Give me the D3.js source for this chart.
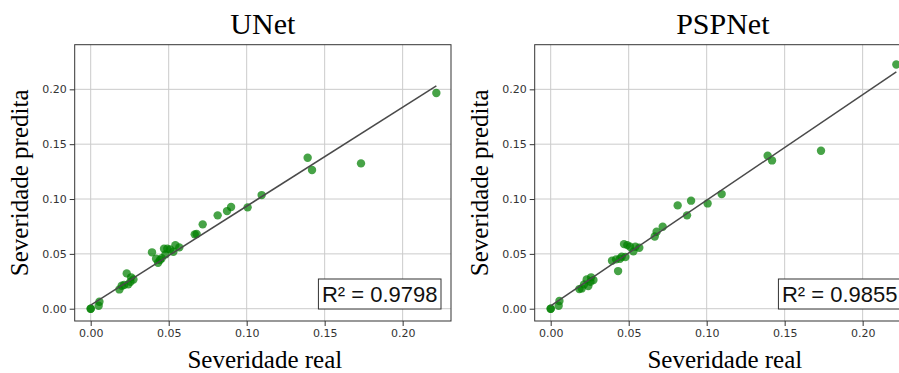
<!DOCTYPE html>
<html>
<head>
<meta charset="utf-8">
<script src="https://d3js.org/d3.v7.min.js"></script>
<style>
  body { margin: 0; background: #fff; }
  svg { display: block; }
</style>
</head>
<body>
<svg width="899" height="373"></svg>
<script>
  // severidade real (shared by both models)
  var severidadeReal = [
    0.0000, 0.0000, 0.0056, 0.0051, 0.0184, 0.0199, 0.0214, 0.0231, 0.0241, 0.0259,
    0.0274, 0.0255, 0.0393, 0.0419, 0.0432, 0.0444, 0.0455, 0.0470, 0.0479, 0.0491,
    0.0509, 0.0530, 0.0543, 0.0568, 0.0667, 0.0679, 0.0718, 0.0814, 0.0874, 0.0900,
    0.1006, 0.1096, 0.1391, 0.1419, 0.1733, 0.2216
  ];
  var predUNet = [
    0.0000, 0.0000, 0.0064, 0.0027, 0.0176, 0.0210, 0.0216, 0.0322, 0.0222, 0.0286,
    0.0267, 0.0246, 0.0514, 0.0456, 0.0419, 0.0444, 0.0460, 0.0547, 0.0495, 0.0547,
    0.0541, 0.0520, 0.0580, 0.0559, 0.0678, 0.0681, 0.0769, 0.0851, 0.0890, 0.0927,
    0.0924, 0.1036, 0.1376, 0.1264, 0.1325, 0.1966
  ];
  var predPSPNet = [
    0.0000, 0.0000, 0.0070, 0.0027, 0.0179, 0.0185, 0.0222, 0.0267, 0.0207, 0.0286,
    0.0261, 0.0246, 0.0438, 0.0450, 0.0343, 0.0456, 0.0474, 0.0589, 0.0471, 0.0580,
    0.0565, 0.0523, 0.0565, 0.0556, 0.0659, 0.0702, 0.0747, 0.0942, 0.0851, 0.0985,
    0.0960, 0.1045, 0.1395, 0.1352, 0.1440, 0.2227
  ];
  // fitted line [intercept, slope]
  var fitUNet = [0.0033, 0.902];
  var fitPSPNet = [0.0027, 0.962];
  var r2Labels = ["R\u00b2 = 0.9798", "R\u00b2 = 0.9855"];
  var titles = ["UNet", "PSPNet"];
  var tickValues = [0, 0.05, 0.10, 0.15, 0.20];

  var svg = d3.select("svg");
  var serif = "'Liberation Serif', 'Times New Roman', serif";

  var panels = [
    { left: 74.7, pred: predUNet, fit: fitUNet, r2: r2Labels[0], title: titles[0] },
    { left: 534.7, pred: predPSPNet, fit: fitPSPNet, r2: r2Labels[1], title: titles[1] }
  ];
  var axTop = 44.7, width = 376.3, height = 276.3;

  panels.forEach(function (p, i) {
    var g = svg.append("g").attr("transform", "translate(" + p.left + "," + axTop + ")");

    var x = d3.scaleLinear().domain([-0.01026, 0.2310]).range([0, width]);
    var y = d3.scaleLinear().domain([-0.0112, 0.2407]).range([height, 0]);

    g.append("clipPath").attr("id", "clip" + i)
      .append("rect").attr("width", width).attr("height", height);

    // grid
    g.selectAll(".vgrid").data(tickValues).enter().append("line")
      .attr("x1", function (d) { return x(d); }).attr("x2", function (d) { return x(d); })
      .attr("y1", 0).attr("y2", height)
      .attr("stroke", "#cbcbcb").attr("stroke-width", 1);
    g.selectAll(".hgrid").data(tickValues).enter().append("line")
      .attr("y1", function (d) { return y(d); }).attr("y2", function (d) { return y(d); })
      .attr("x1", 0).attr("x2", width)
      .attr("stroke", "#cbcbcb").attr("stroke-width", 1);

    var plot = g.append("g").attr("clip-path", "url(#clip" + i + ")");

    // points
    plot.selectAll("circle").data(severidadeReal).enter().append("circle")
      .attr("cx", function (d) { return x(d); })
      .attr("cy", function (d, j) { return y(p.pred[j]); })
      .attr("r", 4.2)
      .attr("fill", "#008000")
      .attr("fill-opacity", 0.72);

    // regression line
    var xmax = d3.max(severidadeReal);
    var line = d3.line()
      .x(function (d) { return x(d); })
      .y(function (d) { return y(p.fit[0] + p.fit[1] * d); });
    plot.append("path")
      .attr("d", line([0, xmax]))
      .attr("fill", "none")
      .attr("stroke", "#4a4a4a")
      .attr("stroke-width", 1.5);

    // axes
    var ax = g.append("g")
      .attr("transform", "translate(0," + height + ")")
      .call(d3.axisBottom(x).tickValues(tickValues).tickFormat(d3.format(".2f")).tickSize(5).tickPadding(3));
    var ay = g.append("g")
      .call(d3.axisLeft(y).tickValues(tickValues).tickFormat(d3.format(".2f")).tickSize(5).tickPadding(3));
    [ax, ay].forEach(function (a) {
      a.select(".domain").remove();
      a.selectAll("line").attr("stroke", "#333");
      a.selectAll("text")
        .style("font-family", "'DejaVu Sans', sans-serif")
        .style("font-size", "11px")
        .attr("fill", "#333");
    });

    // frame
    g.append("rect")
      .attr("width", width).attr("height", height)
      .attr("fill", "none").attr("stroke", "#333").attr("stroke-width", 1);

    // R2 box
    var bx = g.append("g");
    var t = bx.append("text")
      .attr("x", width - 10 - 3.5)
      .attr("y", height - 12 - 7.3)
      .attr("text-anchor", "end")
      .style("font-family", "'Liberation Sans', Arial, sans-serif")
      .style("font-size", "22px")
      .attr("fill", "#111")
      .text(p.r2);
    var bb = t.node().getBBox();
    bx.insert("rect", "text")
      .attr("x", bb.x - 3.5).attr("y", height - 12 - 30)
      .attr("width", bb.width + 7).attr("height", 30)
      .attr("fill", "#fff").attr("stroke", "#333").attr("stroke-width", 1);

    // titles and labels
    g.append("text")
      .attr("x", width / 2).attr("y", 33.5 - axTop)
      .attr("text-anchor", "middle")
      .style("font-family", serif).style("font-size", "30px")
      .text(p.title);
    g.append("text")
      .attr("x", width / 2 + 2).attr("y", 368 - axTop)
      .attr("text-anchor", "middle")
      .style("font-family", serif).style("font-size", "25px")
      .text("Severidade real");
    g.append("text")
      .attr("transform", "translate(" + (28 - 74.7) + "," + height / 2 + ") rotate(-90)")
      .attr("text-anchor", "middle")
      .style("font-family", serif).style("font-size", "25px")
      .text("Severidade predita");
  });
</script>
</body>
</html>
